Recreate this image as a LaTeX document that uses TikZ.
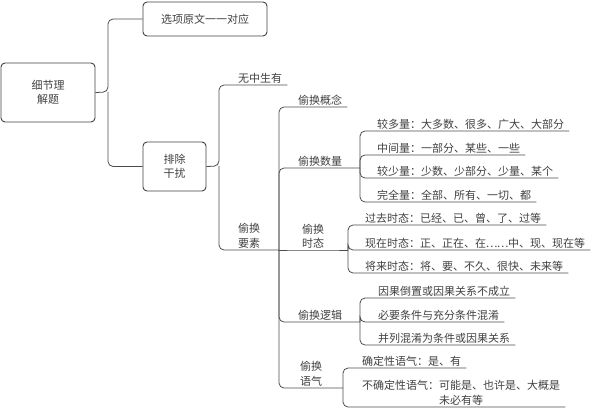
\documentclass[tikz,border=0pt]{standalone}
\usepackage{fontspec}
\setmainfont{Noto Sans CJK SC}
\usepackage{tikz}
\usetikzlibrary{positioning}
\tikzstyle{box} = [draw, rounded corners=4pt, line width=0.9pt, align=center, text=black!75, black!75]
\tikzstyle{leaf} = [anchor=south west, inner xsep=5pt, inner ysep=1.5pt, text=black!75]
\tikzstyle{stack} = [anchor=south, align=center, inner sep=1.5pt, text=black!75]
\tikzstyle{line} = [draw, rounded corners=5pt, line width=0.8pt, black!70]
\newcommand{\wideell}{\makebox[11pt]{…}\makebox[11pt]{…}}

\begin{document}
\begin{tikzpicture}[x=1pt, y=-1pt, font=\fontsize{11pt}{14.5pt}\selectfont]
			\useasboundingbox (0,0) rectangle (596,412);
			% boxes
			\node [box, minimum width=94pt, minimum height=59pt] (root) at (48,92.5) {细节理\\解题};
			\node [box, minimum width=124pt, minimum height=34pt] (opt) at (205,19) {选项原文一一对应};
			\node [box, minimum width=63pt, minimum height=49pt] (pc) at (174.5,166.5) {排除\\干扰};
			
			% junctions
			\coordinate (rj) at (108,92);
			\coordinate (xj) at (219,166);
			\coordinate (ej) at (279,250);
			\coordinate (qj) at (360,168);
			\coordinate (tj) at (348,250);
			\coordinate (lj) at (360,322);
			\coordinate (mj) at (343,388);
			
			% second level
			\node [leaf] (w) at (233,85) {无中生有};
			\node [stack] (e0) at (249,250) {偷换\\要素};
			
			% third level
			\node [leaf] (e1) at (293,107) {偷换概念};
			\node [leaf] (e2) at (293,168) {偷换数量};
			\node [stack] (e3) at (313,250) {偷换\\时态};
			\node [leaf] (e4) at (293,322) {偷换逻辑};
			\node [stack] (e5) at (311,388) {偷换\\语气};
			
			% leaves
			\node [leaf] (q1) at (372,131) {较多量：大多数、很多、广大、大部分};
			\node [leaf] (q2) at (372,155) {中间量：一部分、某些、一些};
			\node [leaf] (q3) at (372,178) {较少量：少数、少部分、少量、某个};
			\node [leaf] (q4) at (372,202) {完全量：全部、所有、一切、都};
			\node [leaf] (t1) at (360,225) {过去时态：已经、已、曾、了、过等};
			\node [leaf] (t2) at (360,250) {现在时态：正、正在、在\wideell 中、现、现在等};
			\node [leaf] (t3) at (360,273) {将来时态：将、要、不久、很快、未来等};
			\node [leaf] (l1) at (373,298) {因果倒置或因果关系不成立};
			\node [leaf] (l2) at (373,322) {必要条件与充分条件混淆};
			\node [leaf] (l3) at (373,345) {并列混淆为条件或因果关系};
			\node [leaf] (m1) at (357,368) {确定性语气：是、有};
			\node [leaf, align=center] (m2) at (357,407) {不确定性语气：可能是、也许是、大概是\\未必有等};
			
			\path [line] (root.east) -- (rj) |- (opt.west);
			\path [line] (rj) |- (pc.west);
			\path [line] (pc.east) -- (xj) |- (w.south west) -- (w.south east);
			\path [line] (xj) |- (e0.south west) -- (e0.south east) -- (ej);
			
			\path [line] (ej) |- (e1.south west) -- (e1.south east);
			\path [line] (ej) |- (e2.south west) -- (qj);
			\path [line] (ej) -- (e3.south west) -- (e3.south east) -- (tj);
			\path [line] (ej) |- (e4.south west) -- (lj);
			\path [line] (ej) |- (e5.south west) -- (mj);
			
			\path [line] (qj) |- (q1.south west) -- (q1.south east);
			\path [line] (qj) |- (q2.south west) -- (q2.south east);
			\path [line] (qj) |- (q3.south west) -- (q3.south east);
			\path [line] (qj) |- (q4.south west) -- (q4.south east);
			\path [line] (tj) |- (t1.south west) -- (t1.south east);
			\path [line] (tj) |- (t2.south west) -- (t2.south east);
			\path [line] (tj) |- (t3.south west) -- (t3.south east);
			\path [line] (lj) |- (l1.south west) -- (l1.south east);
			\path [line] (lj) |- (l2.south west) -- (l2.south east);
			\path [line] (lj) |- (l3.south west) -- (l3.south east);
			\path [line] (mj) |- (m1.south west) -- (m1.south east);
			\path [line] (mj) |- (m2.south west) -- (m2.south east);
		\end{tikzpicture}
\end{document}
